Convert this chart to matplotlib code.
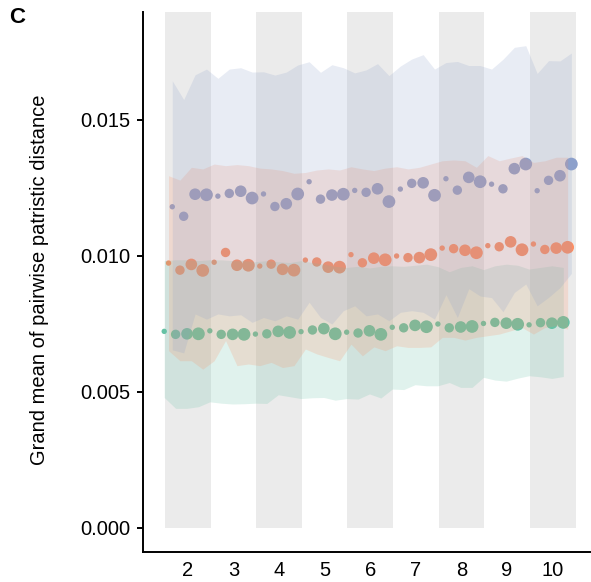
import numpy as np
import matplotlib
matplotlib.use("Agg")
import matplotlib.pyplot as plt

# x categories (one grey/white column each) and the 4 sub-groups inside each
bins = [2, 3, 4, 5, 6, 7, 8, 9, 10]
subgroups = [0, 1, 2, 3]

green_mean = [0.00722, 0.00711, 0.00713, 0.00713, 0.00724, 0.00711, 0.00711, 0.00711, 0.00712,
              0.00713, 0.00722, 0.00718, 0.00721, 0.00727, 0.00732, 0.00713, 0.00719, 0.00716,
              0.00724, 0.00711, 0.00737, 0.00735, 0.00744, 0.00739, 0.00749, 0.00735, 0.00738,
              0.00740, 0.00751, 0.00755, 0.00752, 0.00748, 0.00746, 0.00754, 0.00752, 0.00755]
green_hi = [0.00982, 0.00985, 0.00985, 0.00982, 0.00985, 0.00985, 0.00982, 0.00982, 0.00978,
            0.00982, 0.00978, 0.00975, 0.00982, 0.00975, 0.00969, 0.00961, 0.00957, 0.00961,
            0.00955, 0.00961, 0.00963, 0.00961, 0.00965, 0.00969, 0.00960, 0.00941, 0.00957,
            0.00963, 0.00949, 0.00963, 0.00969, 0.00965, 0.00951, 0.00957, 0.00963, 0.00957]
green_lo = [0.00479, 0.00439, 0.00439, 0.00445, 0.00463, 0.00458, 0.00455, 0.00456, 0.00458,
            0.00457, 0.00489, 0.00482, 0.00475, 0.00478, 0.00479, 0.00469, 0.00475, 0.00473,
            0.00492, 0.00477, 0.00510, 0.00508, 0.00526, 0.00522, 0.00522, 0.00534, 0.00516,
            0.00516, 0.00553, 0.00543, 0.00539, 0.00550, 0.00559, 0.00555, 0.00549, 0.00556]

orange_mean = [0.00973, 0.00947, 0.00968, 0.00946, 0.00976, 0.01012, 0.00965, 0.00965, 0.00962,
               0.00969, 0.00950, 0.00947, 0.00984, 0.00977, 0.00958, 0.00958, 0.01004, 0.00974,
               0.00991, 0.00985, 0.00999, 0.00993, 0.00993, 0.01004, 0.01028, 0.01026, 0.01020,
               0.01011, 0.01037, 0.01033, 0.01051, 0.01022, 0.01043, 0.01023, 0.01028, 0.01031]
orange_hi = [0.01294, 0.01278, 0.01325, 0.01319, 0.01337, 0.01331, 0.01335, 0.01331, 0.01322,
             0.01319, 0.01313, 0.01303, 0.01306, 0.01315, 0.01319, 0.01315, 0.01327, 0.01319,
             0.01313, 0.01322, 0.01327, 0.01319, 0.01325, 0.01337, 0.01349, 0.01352, 0.01349,
             0.01325, 0.01368, 0.01349, 0.01359, 0.01368, 0.01343, 0.01349, 0.01362, 0.01362]
orange_lo = [0.00651, 0.00614, 0.00614, 0.00583, 0.00614, 0.00688, 0.00596, 0.00602, 0.00596,
             0.00608, 0.00589, 0.00596, 0.00657, 0.00639, 0.00626, 0.00614, 0.00675, 0.00632,
             0.00665, 0.00651, 0.00669, 0.00663, 0.00663, 0.00665, 0.00700, 0.00700, 0.00690,
             0.00700, 0.00706, 0.00712, 0.00724, 0.00736, 0.00712, 0.00736, 0.00743, 0.00730]

blue_mean = [0.01180, 0.01145, 0.01226, 0.01224, 0.01219, 0.01229, 0.01237, 0.01212, 0.01227,
             0.01181, 0.01191, 0.01227, 0.01272, 0.01208, 0.01223, 0.01226, 0.01240, 0.01233,
             0.01246, 0.01199, 0.01245, 0.01266, 0.01268, 0.01222, 0.01283, 0.01241, 0.01288,
             0.01272, 0.01263, 0.01246, 0.01320, 0.01337, 0.01239, 0.01277, 0.01294, 0.01337]
blue_hi = [0.01643, 0.01574, 0.01665, 0.01686, 0.01652, 0.01686, 0.01691, 0.01675, 0.01676,
           0.01664, 0.01675, 0.01701, 0.01713, 0.01674, 0.01702, 0.01691, 0.01672, 0.01683,
           0.01706, 0.01662, 0.01697, 0.01723, 0.01739, 0.01686, 0.01710, 0.01714, 0.01699,
           0.01699, 0.01686, 0.01722, 0.01766, 0.01772, 0.01670, 0.01717, 0.01716, 0.01745]
blue_lo = [0.00654, 0.00643, 0.00786, 0.00767, 0.00786, 0.00779, 0.00783, 0.00755, 0.00773,
           0.00761, 0.00779, 0.00767, 0.00829, 0.00773, 0.00749, 0.00798, 0.00816, 0.00779,
           0.00786, 0.00761, 0.00792, 0.00798, 0.00792, 0.00767, 0.00857, 0.00773, 0.00879,
           0.00852, 0.00846, 0.00794, 0.00865, 0.00896, 0.00816, 0.00847, 0.00883, 0.00935]

yticks = [0.000, 0.005, 0.010, 0.015]

plt.rcParams["font.family"] = ["Liberation Sans", "DejaVu Sans"]

fig = plt.figure(figsize=(5.91, 5.82), dpi=100)
ax = fig.add_axes([0.2425, 0.052, 0.756, 0.927])

top = 0.01895
# alternating grey columns
for k in bins[::2]:
    ax.bar(k, top, width=1.0, bottom=0, color="#ebebeb", linewidth=0, zorder=1)

base = np.repeat(bins, len(subgroups)) - 0.423 + np.tile(subgroups, len(bins)) * 0.25
sizes = np.tile([15, 46, 70, 84], len(bins))

series = [
    ("#66c2a5", -0.095, green_mean, green_lo, green_hi),
    ("#fc8d62", 0.0, orange_mean, orange_lo, orange_hi),
    ("#8da0cb", 0.082, blue_mean, blue_lo, blue_hi),
]
for color, dx, mean, lo, hi in series:
    x = base + dx
    ax.scatter(x, mean, s=sizes, color=color, linewidths=0, zorder=2)
    ax.fill_between(x, lo, hi, color=color, alpha=0.2, linewidth=0, zorder=3)

ax.set_xlim(1.024, 10.82)
ax.set_ylim(-0.00088, top)
ax.set_xticks(bins)
ax.set_xticklabels([str(b) for b in bins])
ax.set_yticks(yticks)
ax.set_yticklabels(["%.3f" % v for v in yticks])
ax.tick_params(axis="x", length=0, pad=6.5, labelsize=14.5)
ax.tick_params(axis="y", length=4.5, width=1.4, pad=4.5, labelsize=14.5)

for side in ["top", "right"]:
    ax.spines[side].set_visible(False)
for side in ["left", "bottom"]:
    ax.spines[side].set_linewidth(1.4)

fig.text(40 / 591, 0.519, "Grand mean of pairwise patristic distance",
         rotation=90, ha="center", va="center", fontsize=14.5)
fig.text(0.015, 0.988, "C", fontsize=16, fontweight="bold", ha="left", va="top")

fig.savefig("out.png", dpi=100)
